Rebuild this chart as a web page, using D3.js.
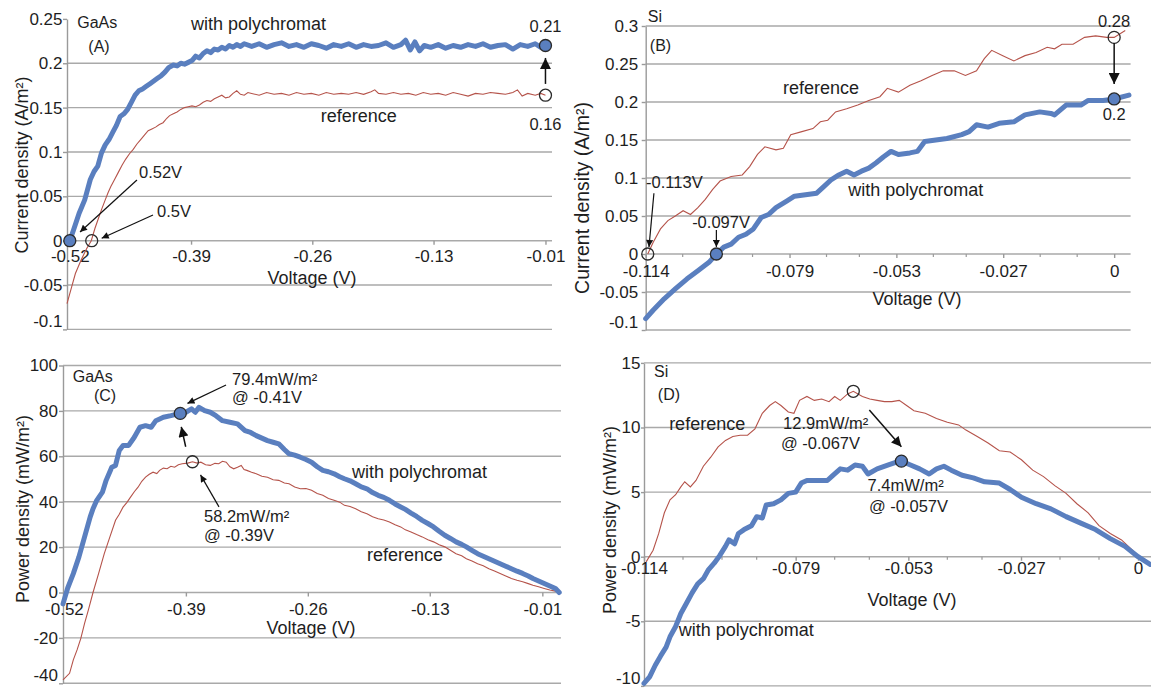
<!DOCTYPE html>
<html>
<head>
<meta charset="utf-8">
<script src="https://cdn.jsdelivr.net/npm/d3@7"></script>
<style>
body { margin: 0; background: #fff; }
text { font-family: "Liberation Sans", Arial, sans-serif; fill: #1e1e1e; }
.grid { stroke: #a9a9a9; stroke-width: 1.4; }
</style>
</head>
<body>
<svg id="fig" width="1151" height="689"></svg>
<script>
// tick labels
var gaasVTicks = [-0.52, -0.39, -0.26, -0.13, -0.01];
var siVTicks = [-0.114, -0.079, -0.053, -0.027, 0];
var siVMinor = [-0.105, -0.096, -0.088, -0.070, -0.062, -0.044, -0.036, -0.018, -0.009];
var gaasJTicks = [-0.1, -0.05, 0, 0.05, 0.1, 0.15, 0.2, 0.25];
var siJTicks = [-0.1, -0.05, 0, 0.05, 0.1, 0.15, 0.2, 0.25, 0.3];
var gaasPTicks = [-40, -20, 0, 20, 40, 60, 80, 100];
var siPTicks = [-10, -5, 0, 5, 10, 15];

// (A) GaAs current density, [V, A/m2]
var gaasJPoly = [[-0.520,0.000],[-0.516,0.012],[-0.510,0.031],[-0.504,0.046],[-0.498,0.069],[-0.494,0.078],
  [-0.490,0.084],[-0.486,0.099],[-0.482,0.108],[-0.478,0.114],[-0.474,0.122],[-0.470,0.130],[-0.466,0.140],
  [-0.462,0.143],[-0.458,0.148],[-0.454,0.156],[-0.450,0.164],[-0.446,0.169],[-0.442,0.171],[-0.438,0.174],
  [-0.434,0.177],[-0.430,0.180],[-0.426,0.183],[-0.422,0.186],[-0.418,0.190],[-0.414,0.195],[-0.409,0.198],
  [-0.405,0.197],[-0.401,0.200],[-0.397,0.199],[-0.393,0.201],[-0.389,0.203],[-0.385,0.208],[-0.381,0.206],
  [-0.377,0.211],[-0.373,0.214],[-0.369,0.212],[-0.365,0.216],[-0.361,0.215],[-0.357,0.218],[-0.353,0.216],
  [-0.349,0.220],[-0.345,0.218],[-0.341,0.221],[-0.337,0.219],[-0.333,0.222],[-0.325,0.219],[-0.317,0.222],
  [-0.309,0.218],[-0.301,0.221],[-0.293,0.223],[-0.285,0.219],[-0.277,0.221],[-0.269,0.218],[-0.261,0.222],
  [-0.253,0.220],[-0.245,0.217],[-0.237,0.221],[-0.229,0.219],[-0.221,0.222],[-0.213,0.218],[-0.205,0.221],
  [-0.197,0.219],[-0.189,0.220],[-0.181,0.223],[-0.173,0.218],[-0.165,0.221],[-0.160,0.226],[-0.155,0.215],
  [-0.150,0.224],[-0.145,0.214],[-0.140,0.220],[-0.133,0.218],[-0.125,0.221],[-0.117,0.217],[-0.109,0.220],
  [-0.101,0.218],[-0.093,0.221],[-0.085,0.219],[-0.077,0.222],[-0.069,0.218],[-0.061,0.220],[-0.053,0.221],
  [-0.045,0.216],[-0.037,0.221],[-0.029,0.219],[-0.021,0.222],[-0.015,0.218],[-0.010,0.220]];
var gaasJRef = [[-0.523,-0.071],[-0.518,-0.052],[-0.514,-0.037],[-0.508,-0.022],[-0.502,-0.009],[-0.497,0.000],
  [-0.493,0.014],[-0.490,0.023],[-0.486,0.035],[-0.482,0.046],[-0.479,0.054],[-0.476,0.061],[-0.472,0.069],
  [-0.468,0.077],[-0.464,0.085],[-0.460,0.092],[-0.456,0.098],[-0.452,0.103],[-0.448,0.109],[-0.444,0.114],
  [-0.440,0.119],[-0.436,0.124],[-0.432,0.126],[-0.428,0.128],[-0.424,0.131],[-0.420,0.133],[-0.416,0.138],
  [-0.413,0.141],[-0.409,0.143],[-0.405,0.145],[-0.401,0.148],[-0.397,0.150],[-0.393,0.151],[-0.389,0.152],
  [-0.385,0.151],[-0.381,0.153],[-0.377,0.156],[-0.373,0.158],[-0.369,0.157],[-0.365,0.160],[-0.361,0.162],
  [-0.357,0.164],[-0.353,0.161],[-0.349,0.162],[-0.345,0.166],[-0.341,0.169],[-0.337,0.165],[-0.333,0.164],
  [-0.329,0.167],[-0.325,0.166],[-0.317,0.164],[-0.309,0.167],[-0.301,0.165],[-0.293,0.166],[-0.285,0.164],
  [-0.277,0.167],[-0.269,0.165],[-0.261,0.166],[-0.253,0.164],[-0.245,0.167],[-0.237,0.165],[-0.229,0.166],
  [-0.221,0.165],[-0.213,0.167],[-0.205,0.165],[-0.197,0.168],[-0.193,0.170],[-0.189,0.166],[-0.181,0.165],
  [-0.173,0.167],[-0.165,0.165],[-0.157,0.166],[-0.149,0.164],[-0.141,0.167],[-0.133,0.165],[-0.125,0.166],
  [-0.117,0.164],[-0.109,0.167],[-0.101,0.165],[-0.093,0.163],[-0.085,0.166],[-0.077,0.165],[-0.069,0.167],
  [-0.061,0.166],[-0.053,0.165],[-0.045,0.167],[-0.040,0.170],[-0.035,0.163],[-0.029,0.166],[-0.021,0.164],
  [-0.015,0.166],[-0.010,0.164]];

// (B) Si current density, [V, A/m2]
var siJPoly = [[-0.1140,-0.085],[-0.1122,-0.074],[-0.1095,-0.059],[-0.1068,-0.046],[-0.1040,-0.033],
  [-0.1013,-0.022],[-0.0986,-0.011],[-0.0968,0.000],[-0.0950,0.009],[-0.0932,0.013],[-0.0914,0.022],
  [-0.0896,0.026],[-0.0878,0.033],[-0.0859,0.048],[-0.0841,0.052],[-0.0823,0.061],[-0.0796,0.070],
  [-0.0778,0.076],[-0.0751,0.078],[-0.0724,0.080],[-0.0706,0.089],[-0.0688,0.098],[-0.0670,0.104],
  [-0.0651,0.109],[-0.0633,0.104],[-0.0615,0.109],[-0.0597,0.113],[-0.0579,0.120],[-0.0561,0.128],
  [-0.0543,0.135],[-0.0525,0.131],[-0.0497,0.133],[-0.0479,0.135],[-0.0461,0.148],[-0.0434,0.150],
  [-0.0407,0.152],[-0.0371,0.157],[-0.0353,0.161],[-0.0335,0.170],[-0.0307,0.167],[-0.0280,0.172],
  [-0.0244,0.174],[-0.0217,0.183],[-0.0181,0.187],[-0.0154,0.185],[-0.0145,0.183],[-0.0117,0.196],
  [-0.0081,0.196],[-0.0063,0.202],[-0.0027,0.202],[0.0000,0.204],[0.0036,0.209]];
var siJRef = [[-0.1135,0.000],[-0.1122,0.015],[-0.1104,0.033],[-0.1086,0.044],[-0.1068,0.050],[-0.1049,0.057],
  [-0.1031,0.052],[-0.1013,0.061],[-0.0995,0.072],[-0.0977,0.085],[-0.0959,0.096],[-0.0932,0.102],
  [-0.0905,0.104],[-0.0887,0.115],[-0.0868,0.131],[-0.0850,0.141],[-0.0823,0.137],[-0.0805,0.139],
  [-0.0787,0.157],[-0.0760,0.161],[-0.0733,0.165],[-0.0715,0.174],[-0.0697,0.176],[-0.0678,0.187],
  [-0.0651,0.191],[-0.0624,0.196],[-0.0597,0.202],[-0.0570,0.207],[-0.0552,0.218],[-0.0525,0.213],
  [-0.0497,0.222],[-0.0470,0.228],[-0.0443,0.235],[-0.0416,0.241],[-0.0389,0.241],[-0.0362,0.235],
  [-0.0335,0.241],[-0.0316,0.257],[-0.0298,0.268],[-0.0271,0.261],[-0.0244,0.254],[-0.0217,0.261],
  [-0.0190,0.265],[-0.0163,0.272],[-0.0145,0.270],[-0.0127,0.276],[-0.0100,0.276],[-0.0072,0.285],
  [-0.0045,0.287],[-0.0018,0.285],[0.0000,0.285],[0.0027,0.294]];

// (C) GaAs power density, [V, mW/m2]
var gaasPPoly = [[-0.521,-5.0],[-0.516,2.0],[-0.510,8.3],[-0.504,15.7],[-0.498,24.5],[-0.492,33.3],[-0.489,36.9],
  [-0.485,40.6],[-0.479,44.2],[-0.475,49.4],[-0.469,55.2],[-0.465,56.0],[-0.461,62.6],[-0.457,64.8],
  [-0.451,64.8],[-0.445,68.4],[-0.439,72.8],[-0.433,73.5],[-0.427,72.8],[-0.422,75.7],[-0.414,77.2],
  [-0.406,77.9],[-0.396,78.9],[-0.390,79.4],[-0.384,80.9],[-0.380,79.4],[-0.376,81.6],[-0.370,80.1],
  [-0.364,79.4],[-0.358,77.9],[-0.351,75.7],[-0.343,75.0],[-0.335,74.3],[-0.327,71.3],[-0.321,70.5],
  [-0.315,69.1],[-0.309,68.0],[-0.303,66.9],[-0.297,66.2],[-0.291,65.5],[-0.285,63.0],[-0.280,61.1],
  [-0.274,60.5],[-0.268,59.6],[-0.262,58.6],[-0.256,57.4],[-0.250,55.4],[-0.244,53.8],[-0.238,53.2],
  [-0.232,52.3],[-0.226,51.0],[-0.221,50.1],[-0.215,49.2],[-0.209,47.9],[-0.203,46.5],[-0.197,45.7],
  [-0.191,44.0],[-0.185,42.8],[-0.179,41.9],[-0.173,40.6],[-0.167,39.0],[-0.161,37.7],[-0.156,36.6],
  [-0.150,35.0],[-0.144,33.5],[-0.138,31.8],[-0.132,30.4],[-0.126,28.9],[-0.120,27.0],[-0.114,25.2],
  [-0.108,23.8],[-0.102,22.3],[-0.096,21.2],[-0.091,20.1],[-0.085,18.6],[-0.079,17.1],[-0.073,16.0],
  [-0.067,14.9],[-0.061,13.8],[-0.055,12.7],[-0.049,11.6],[-0.043,10.5],[-0.037,9.4],[-0.031,8.4],
  [-0.025,7.3],[-0.020,6.2],[-0.014,5.1],[-0.008,4.0],[-0.002,2.9],[0.004,1.8],[0.008,0.0]];
var gaasPRef = [[-0.521,-38.5],[-0.514,-35.6],[-0.510,-29.7],[-0.506,-25.3],[-0.502,-20.2],[-0.498,-13.6],
  [-0.494,-7.8],[-0.489,0.0],[-0.483,8.4],[-0.477,17.1],[-0.471,24.5],[-0.465,31.8],[-0.461,34.5],[-0.457,37.6],
  [-0.453,39.6],[-0.449,42.0],[-0.445,44.4],[-0.441,46.4],[-0.437,49.0],[-0.433,50.8],[-0.429,52.1],
  [-0.425,53.0],[-0.421,52.4],[-0.418,53.8],[-0.414,54.8],[-0.410,54.5],[-0.406,55.6],[-0.402,55.2],
  [-0.398,56.3],[-0.394,56.7],[-0.388,57.0],[-0.383,57.6],[-0.378,57.0],[-0.374,57.4],[-0.369,56.3],
  [-0.364,56.0],[-0.359,56.9],[-0.355,56.7],[-0.351,57.8],[-0.347,57.4],[-0.343,55.4],[-0.339,54.5],
  [-0.335,55.2],[-0.331,56.0],[-0.328,54.2],[-0.325,53.8],[-0.320,53.0],[-0.315,52.3],[-0.309,51.2],
  [-0.303,50.8],[-0.297,49.7],[-0.291,49.4],[-0.285,48.2],[-0.280,47.9],[-0.274,46.5],[-0.268,45.7],
  [-0.262,45.8],[-0.256,45.0],[-0.250,43.6],[-0.244,42.8],[-0.238,41.4],[-0.232,40.6],[-0.226,39.8],
  [-0.221,38.4],[-0.215,37.9],[-0.209,36.9],[-0.203,35.6],[-0.197,34.7],[-0.191,33.4],[-0.185,32.5],
  [-0.179,31.9],[-0.173,31.1],[-0.167,29.8],[-0.161,28.9],[-0.156,27.6],[-0.150,26.7],[-0.144,25.5],
  [-0.138,24.5],[-0.132,23.2],[-0.126,22.3],[-0.120,21.0],[-0.114,20.1],[-0.108,18.6],[-0.102,17.1],
  [-0.096,16.2],[-0.091,14.9],[-0.085,13.9],[-0.079,12.7],[-0.073,11.8],[-0.067,10.5],[-0.061,9.5],
  [-0.055,8.4],[-0.049,7.3],[-0.043,6.2],[-0.037,5.4],[-0.031,4.7],[-0.025,3.9],[-0.020,3.2],[-0.014,2.5],
  [-0.008,1.8],[-0.002,1.1],[0.004,0.6],[0.008,0.0]];

// (D) Si power density, [V, mW/m2]
var siPPoly = [[-0.1140,-9.8],[-0.1127,-9.3],[-0.1114,-8.4],[-0.1102,-7.7],[-0.1089,-7.0],[-0.1080,-6.2],
  [-0.1067,-5.4],[-0.1055,-4.4],[-0.1042,-3.6],[-0.1029,-2.8],[-0.1016,-2.1],[-0.1003,-1.7],[-0.0991,-1.0],
  [-0.0978,-0.5],[-0.0965,0.1],[-0.0952,0.8],[-0.0944,1.3],[-0.0931,1.0],[-0.0922,1.8],[-0.0909,2.1],
  [-0.0892,2.4],[-0.0880,3.1],[-0.0867,3.0],[-0.0858,4.0],[-0.0841,4.1],[-0.0824,4.4],[-0.0807,4.9],
  [-0.0790,5.0],[-0.0777,5.7],[-0.0764,5.9],[-0.0739,5.9],[-0.0717,5.9],[-0.0704,6.3],[-0.0687,6.8],
  [-0.0670,6.7],[-0.0653,7.1],[-0.0636,7.0],[-0.0623,6.4],[-0.0602,6.8],[-0.0576,7.1],[-0.0559,7.3],
  [-0.0546,7.4],[-0.0525,7.1],[-0.0504,6.8],[-0.0482,6.4],[-0.0465,6.8],[-0.0448,7.0],[-0.0431,6.7],
  [-0.0406,6.3],[-0.0380,6.1],[-0.0354,5.8],[-0.0320,5.7],[-0.0295,5.2],[-0.0269,4.6],[-0.0235,4.1],
  [-0.0201,3.7],[-0.0166,3.1],[-0.0132,2.6],[-0.0098,2.1],[-0.0064,1.4],[-0.0030,0.8],[0.0000,0.0],
  [0.0028,-0.6]];
var siPRef = [[-0.1135,-0.4],[-0.1119,0.5],[-0.1106,1.8],[-0.1093,3.4],[-0.1080,4.4],[-0.1067,4.8],[-0.1055,5.4],
  [-0.1046,5.8],[-0.1033,5.4],[-0.1020,5.9],[-0.1003,7.0],[-0.0986,7.7],[-0.0969,8.5],[-0.0952,9.0],
  [-0.0935,9.3],[-0.0918,9.4],[-0.0901,9.4],[-0.0884,9.9],[-0.0867,11.1],[-0.0850,11.7],[-0.0837,12.0],
  [-0.0824,11.7],[-0.0807,11.2],[-0.0794,11.1],[-0.0781,12.1],[-0.0764,12.4],[-0.0747,12.1],[-0.0730,12.2],
  [-0.0713,12.0],[-0.0700,12.4],[-0.0687,12.1],[-0.0670,12.6],[-0.0657,12.8],[-0.0636,12.4],[-0.0619,12.2],
  [-0.0602,12.1],[-0.0585,12.0],[-0.0568,12.0],[-0.0551,12.1],[-0.0534,11.7],[-0.0517,11.3],[-0.0491,11.1],
  [-0.0465,10.7],[-0.0440,10.4],[-0.0414,10.2],[-0.0397,9.8],[-0.0371,9.3],[-0.0346,8.8],[-0.0320,8.2],
  [-0.0295,8.1],[-0.0269,7.5],[-0.0243,6.7],[-0.0218,6.2],[-0.0192,5.5],[-0.0166,4.9],[-0.0141,4.1],
  [-0.0115,3.4],[-0.0090,2.4],[-0.0064,1.8],[-0.0038,1.3],[-0.0013,0.5],[0.0000,0.0]];

// marked points [V, value, series]
var gaasJMarks = [[-0.520,0,"poly"],[-0.4965,0,"ref"],[-0.010,0.220,"poly"],[-0.010,0.164,"ref"]];
var siJMarks = [[-0.1135,0,"ref"],[-0.0968,0,"poly"],[0,0.285,"ref"],[0,0.204,"poly"]];
var gaasPMarks = [[-0.396,78.9,"poly"],[-0.383,57.6,"ref"]];
var siPMarks = [[-0.0657,12.8,"ref"],[-0.0546,7.4,"poly"]];

// labels [text, V, value, anchor, kind]
var gaasJNotes = [["GaAs",-0.512,0.240,"start","tag"],["(A)",-0.4887,0.2127,"middle","tag"],
  ["with polychromat",-0.390,0.2375,"start","word"],["reference",-0.251,0.1338,"start","word"],
  ["0.21",-0.010,0.2353,"middle","num"],["0.16",-0.010,0.1248,"middle","num"],
  ["0.52V",-0.4458,0.0707,"start","num"],["0.5V",-0.4265,0.0267,"start","num"]];
var siJNotes = [["Si",-0.1135,0.3053,"start","tag"],["(B)",-0.113,0.267,"start","tag"],
  ["reference",-0.0806,0.2105,"start","word"],["with polychromat",-0.0647,0.0763,"start","word"],
  ["0.28",0,0.2987,"middle","num"],["0.2",0,0.1763,"middle","num"],
  ["-0.113V",-0.1139,0.0868,"start","num"],["-0.097V",-0.1027,0.0342,"start","num"]];
var gaasPNotes = [["GaAs",-0.5106,92.7,"start","tag"],["(C)",-0.4762,84.4,"middle","tag"],
  ["79.4mW/m²",-0.3408,91.4,"start","num"],["@ -0.41V",-0.3408,83.5,"start","num"],
  ["58.2mW/m²",-0.3707,31.1,"start","num"],["@ -0.39V",-0.3707,22.7,"start","num"],
  ["with polychromat",-0.2129,50.4,"start","word"],["reference",-0.1969,13.9,"start","word"]];
var siPNotes = [["Si",-0.1117,13.9,"start","tag"],["(D)",-0.1108,12.13,"start","tag"],
  ["reference",-0.1082,9.81,"start","word"],["12.9mW/m²",-0.0819,9.88,"start","num"],
  ["@ -0.067V",-0.0824,8.34,"start","num"],["7.4mW/m²",-0.0624,5.09,"start","num"],
  ["@ -0.057V",-0.0621,3.46,"start","num"],["with polychromat",-0.106,-6.14,"start","word"]];

// arrows [V0, val0, V1, val1, head]
var gaasJArrows = [[-0.448,0.0684,-0.509,0.0098,"S"],[-0.4308,0.029,-0.4858,0.0027,"S"],[-0.010,0.1767,-0.010,0.206,"L"]];
var siJArrows = [[-0.112,0.080,-0.1132,0.0092,"S"],[-0.0968,0.0316,-0.0968,0.0092,"S"],[0,0.2776,0,0.2237,"L"]];
var gaasPArrows = [[-0.3472,91.4,-0.3883,83.3,"S"],[-0.3902,64.2,-0.3949,73.0,"M"],[-0.3547,37.7,-0.3744,51.8,"S"]];
var siPArrows = [[-0.062,11.35,-0.0546,8.51,"M"]];

var polyColor = "#5a7fbf", refColor = "#b5534a";
var fontSize = { tag: 16, word: 18, num: 16.5 };

var svg = d3.select("#fig");
svg.append("rect").attr("width", 1151).attr("height", 689).attr("fill", "#fff");

var defs = svg.append("defs");
[["S", 9, 7], ["M", 11, 10], ["L", 13, 11]].forEach(function(h) {
  defs.append("marker")
    .attr("id", "head" + h[0])
    .attr("viewBox", "0 0 10 10")
    .attr("refX", 10).attr("refY", 5)
    .attr("markerUnits", "userSpaceOnUse")
    .attr("markerWidth", h[1]).attr("markerHeight", h[2])
    .attr("orient", "auto")
    .append("path").attr("d", "M0,0L10,5L0,10z").attr("fill", "#111");
});

function drawPanel(p) {
  var x = d3.scaleLinear().domain(p.xDomain).range(p.xRange);
  var y = d3.scaleLinear().domain(p.yDomain).range(p.yRange);
  var g = svg.append("g");

  var grid = p.yTicks.filter(function(t) { return p.topGrid || t < p.yDomain[1]; });
  g.selectAll("line.grid").data(grid).enter().append("line")
    .attr("class", "grid")
    .attr("x1", p.xRange[0]).attr("x2", p.xRange[1])
    .attr("y1", function(d) { return y(d); })
    .attr("y2", function(d) { return y(d); });

  var ya = g.append("g")
    .attr("transform", "translate(" + p.xRange[0] + ",0)")
    .call(d3.axisLeft(y).tickValues(p.yTicks).tickSize(p.yTick[0]).tickPadding(p.yTick[1])
      .tickSizeOuter(0).tickFormat(function(d) { return String(d); }));
  // lowest label sits a little above its line, as in the source figure
  ya.selectAll(".tick text").filter(function(d) { return d === p.yDomain[0]; }).attr("dy", "-0.15em");
  var xa = g.append("g")
    .attr("transform", "translate(0," + y(0) + ")")
    .call(d3.axisBottom(x).tickValues(p.xTicks).tickSize(4).tickPadding(p.xPad)
      .tickFormat(function(d) { return String(d); }));
  xa.select(".domain").remove();
  [ya, xa].forEach(function(a) {
    a.attr("font-size", 17).attr("font-family", '"Liberation Sans", Arial, sans-serif');
    a.selectAll("line, .domain").attr("stroke", "#9a9a9a").attr("stroke-width", 1.4);
    a.selectAll("text").attr("fill", "#1e1e1e");
  });
  if (p.minor) {
    g.selectAll("line.minor").data(p.minor).enter().append("line")
      .attr("x1", function(d) { return x(d); }).attr("x2", function(d) { return x(d); })
      .attr("y1", y(0)).attr("y2", y(0) + 3)
      .attr("stroke", "#9a9a9a").attr("stroke-width", 1.2);
  }

  var line = d3.line().x(function(d) { return x(d[0]); }).y(function(d) { return y(d[1]); });
  g.append("path").datum(p.ref).attr("d", line)
    .attr("fill", "none").attr("stroke", refColor).attr("stroke-width", 1.1);
  g.append("path").datum(p.poly).attr("d", line)
    .attr("fill", "none").attr("stroke", polyColor).attr("stroke-width", 5)
    .attr("stroke-linejoin", "round").attr("stroke-linecap", "round");

  g.selectAll("circle.mark").data(p.marks).enter().append("circle")
    .attr("cx", function(d) { return x(d[0]); })
    .attr("cy", function(d) { return y(d[1]); })
    .attr("r", 6)
    .attr("fill", function(d) { return d[2] === "poly" ? polyColor : "none"; })
    .attr("stroke", "#2a2a2a").attr("stroke-width", 1.3);

  g.selectAll("line.arrow").data(p.arrows).enter().append("line")
    .attr("x1", function(d) { return x(d[0]); }).attr("y1", function(d) { return y(d[1]); })
    .attr("x2", function(d) { return x(d[2]); }).attr("y2", function(d) { return y(d[3]); })
    .attr("stroke", "#111")
    .attr("stroke-width", function(d) { return d[4] === "S" ? 1.2 : 1.5; })
    .attr("marker-end", function(d) { return "url(#head" + d[4] + ")"; });

  g.selectAll("text.note").data(p.notes).enter().append("text")
    .attr("x", function(d) { return x(d[1]); })
    .attr("y", function(d) { return y(d[2]); })
    .attr("text-anchor", function(d) { return d[3]; })
    .attr("font-size", function(d) { return fontSize[d[4]]; })
    .text(function(d) { return d[0]; });

  g.append("text")
    .attr("transform", "translate(" + p.yTitle[0] + "," + p.yTitle[1] + ") rotate(-90)")
    .attr("text-anchor", "middle").attr("font-size", p.yTitle[2])
    .text(p.yLabel);
  g.append("text")
    .attr("x", p.xTitle[0]).attr("y", p.xTitle[1])
    .attr("text-anchor", "middle").attr("font-size", 18)
    .text("Voltage (V)");
}

drawPanel({
  xDomain: [-0.523, -0.003], xRange: [67, 552],
  yDomain: [-0.1, 0.25], yRange: [329.4, 18.9], topGrid: false,
  xTicks: gaasVTicks, yTicks: gaasJTicks, yTick: [4, 0.5], xPad: 5,
  poly: gaasJPoly, ref: gaasJRef, marks: gaasJMarks, notes: gaasJNotes, arrows: gaasJArrows,
  yLabel: "Current density (A/m²)", yTitle: [28, 165, 18], xTitle: [312, 284]
});
drawPanel({
  xDomain: [-0.114, 0.004], xRange: [645.7, 1130.6],
  yDomain: [-0.1, 0.3], yRange: [330, 26], topGrid: true,
  xTicks: siVTicks, yTicks: siJTicks, yTick: [4, 3.5], xPad: 7, minor: siVMinor,
  poly: siJPoly, ref: siJRef, marks: siJMarks, notes: siJNotes, arrows: siJArrows,
  yLabel: "Current density (A/m²)", yTitle: [589, 198, 19.5], xTitle: [917, 305]
});
drawPanel({
  xDomain: [-0.521, 0.0099], xRange: [63, 561],
  yDomain: [-40, 100], yRange: [683.3, 365.5], topGrid: true,
  xTicks: gaasVTicks, yTicks: gaasPTicks, yTick: [4, 1], xPad: 6.5,
  poly: gaasPPoly, ref: gaasPRef, marks: gaasPMarks, notes: gaasPNotes, arrows: gaasPArrows,
  yLabel: "Power density (mW/m²)", yTitle: [29, 509, 18], xTitle: [311, 634]
});
drawPanel({
  xDomain: [-0.114, 0.003], xRange: [644, 1151],
  yDomain: [-10, 15], yRange: [685.9, 362.9], topGrid: true,
  xTicks: siVTicks, yTicks: siPTicks, yTick: [3, 0.5], xPad: 1.5, minor: siVMinor,
  poly: siPPoly, ref: siPRef, marks: siPMarks, notes: siPNotes, arrows: siPArrows,
  yLabel: "Power density (mW/m²)", yTitle: [616, 520, 18], xTitle: [912, 606]
});
</script>
</body>
</html>
